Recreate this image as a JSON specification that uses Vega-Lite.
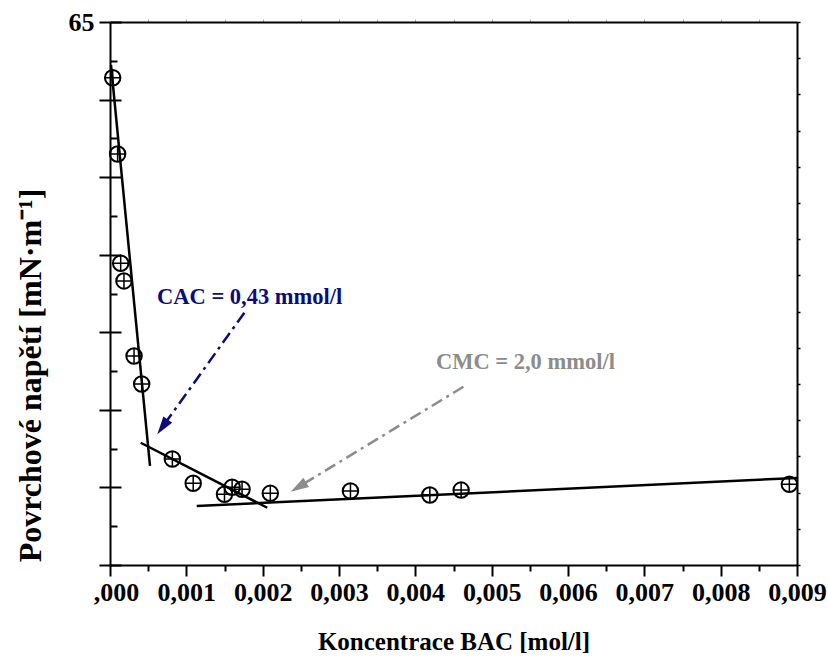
{
  "$schema": "https://vega.github.io/schema/vega-lite/v6.json",
  "width": 687,
  "height": 543,
  "autosize": "none",
  "padding": {"left": 110, "top": 22, "right": 31, "bottom": 92},
  "background": "white",
  "config": {
    "view": {"stroke": null},
    "font": "Liberation Serif",
    "axis": {
      "grid": false,
      "domainColor": "black",
      "tickColor": "black",
      "domainWidth": 2,
      "tickWidth": 2,
      "labelFont": "Liberation Serif",
      "titleFont": "Liberation Serif",
      "labelFontWeight": "bold",
      "titleFontWeight": "bold",
      "labelColor": "black",
      "titleColor": "black"
    }
  },
  "datasets": {
    "points": [
      {"c": 0.000035, "st": 61.41},
      {"c": 0.0001, "st": 56.49},
      {"c": 0.00014, "st": 49.45},
      {"c": 0.000183, "st": 48.31},
      {"c": 0.000315, "st": 43.47},
      {"c": 0.000415, "st": 41.67},
      {"c": 0.000817, "st": 36.83},
      {"c": 0.00109, "st": 35.27},
      {"c": 0.0015, "st": 34.56},
      {"c": 0.0016, "st": 35.01},
      {"c": 0.00173, "st": 34.88},
      {"c": 0.0021, "st": 34.62},
      {"c": 0.00315, "st": 34.77},
      {"c": 0.00419, "st": 34.51},
      {"c": 0.0046, "st": 34.83},
      {"c": 0.0089, "st": 35.2}
    ],
    "fits": [
      {"c": 0.0000131, "st": 62.23, "c2": 0.000524, "st2": 36.39},
      {"c": 0.000402, "st": 37.88, "c2": 0.00206, "st2": 33.69},
      {"c": 0.001136, "st": 33.8, "c2": 0.009, "st2": 35.61}
    ],
    "arrows": [
      {"name": "CAC", "c": 0.00176, "st": 46.26, "c2": 0.000688, "st2": 38.9},
      {"name": "CMC", "c": 0.00463, "st": 41.49, "c2": 0.002469, "st2": 35.03}
    ],
    "labels": [
      {"name": "CAC", "c": 0.000616, "st": 47.27, "text": "CAC = 0,43 mmol/l"},
      {"name": "CMC", "c": 0.00427, "st": 43.08, "text": "CMC = 2,0 mmol/l"}
    ]
  },
  "layer": [
    {
      "data": {"name": "points"},
      "mark": {"type": "point", "shape": "circle", "size": 240, "filled": false, "stroke": "black", "strokeWidth": 2, "opacity": 1},
      "encoding": {
        "x": {
          "field": "c", "type": "quantitative",
          "scale": {"domain": [0, 0.009], "nice": false, "zero": false},
          "axis": {
            "orient": "bottom",
            "values": [0, 0.001, 0.002, 0.003, 0.004, 0.005, 0.006, 0.007, 0.008, 0.009],
            "tickSize": 11,
            "labelExpr": "datum.value == 0 ? ',000' : replace(format(datum.value, '.3f'), '.', ',')",
            "labelOffset": {"condition": {"test": "datum.value == 0", "value": 6}, "value": 0},
            "labelFontSize": 26,
            "labelPadding": 3,
            "labelFlush": false,
            "labelOverlap": false,
            "title": "Koncentrace BAC [mol/l]",
            "titleFontSize": 25,
            "titleY": 76,
            "titleBaseline": "middle"
          }
        },
        "y": {
          "field": "st", "type": "quantitative",
          "scale": {"domain": [30, 65], "nice": false, "zero": false},
          "axis": {
            "orient": "left",
            "values": [30, 35, 40, 45, 50, 55, 60, 65],
            "tickSize": 11,
            "labelExpr": "datum.value == 65 ? '65' : ''",
            "labelFontSize": 26,
            "labelPadding": 5,
            "labelFlush": false,
            "labelOverlap": false,
            "title": "Povrchové napětí [mN·m⁻¹]",
            "titleFontSize": 32,
            "titleX": -80,
            "titleY": 353,
            "titleAngle": -90,
            "titleAlign": "center",
            "titleBaseline": "middle"
          }
        }
      }
    },
    {
      "data": {"name": "points"},
      "mark": {"type": "point", "shape": "M-1,0L1,0M0,-1L0,1", "size": 240, "filled": false, "stroke": "black", "strokeWidth": 1.5, "opacity": 1},
      "encoding": {
        "x": {
          "field": "c", "type": "quantitative",
          "scale": {"domain": [0, 0.009], "nice": false, "zero": false},
          "axis": {
            "orient": "bottom",
            "values": [0.0005, 0.0015, 0.0025, 0.0035, 0.0045, 0.0055, 0.0065, 0.0075, 0.0085],
            "tickSize": 6, "labels": false, "domain": false, "title": null
          }
        },
        "y": {
          "field": "st", "type": "quantitative",
          "scale": {"domain": [30, 65], "nice": false, "zero": false},
          "axis": {
            "orient": "left",
            "values": [30, 35, 40, 45, 50, 55, 60, 65],
            "tickSize": -11, "labels": false, "domain": false, "title": null
          }
        }
      }
    },
    {
      "data": {"name": "fits"},
      "mark": {"type": "rule", "color": "black", "strokeWidth": 2.5},
      "encoding": {
        "x": {
          "field": "c", "type": "quantitative",
          "scale": {"domain": [0, 0.009], "nice": false, "zero": false},
          "axis": {
            "orient": "top",
            "values": [0.0005, 0.001, 0.0015, 0.002, 0.0025, 0.003, 0.0035, 0.004, 0.0045, 0.005, 0.0055, 0.006, 0.0065, 0.007, 0.0075, 0.008, 0.0085],
            "tickSize": 3, "tickWidth": 1, "tickColor": "#aaaaaa", "labels": false, "domain": true, "title": null
          }
        },
        "y": {
          "field": "st", "type": "quantitative",
          "scale": {"domain": [30, 65], "nice": false, "zero": false},
          "axis": {
            "orient": "left",
            "values": [32.5, 37.5, 42.5, 47.5, 52.5, 57.5, 62.5],
            "tickSize": -7, "labels": false, "domain": false, "title": null
          }
        },
        "x2": {"field": "c2"},
        "y2": {"field": "st2"}
      }
    },
    {
      "data": {"name": "arrows"},
      "mark": {"type": "rule", "strokeWidth": 2.5, "strokeDash": [12, 5, 3, 5]},
      "encoding": {
        "x": {
          "field": "c", "type": "quantitative",
          "scale": {"domain": [0, 0.009], "nice": false, "zero": false},
          "axis": null
        },
        "y": {
          "field": "st", "type": "quantitative",
          "scale": {"domain": [30, 65], "nice": false, "zero": false},
          "axis": {
            "orient": "right",
            "values": [30, 32.3333, 34.6667, 37, 39.3333, 41.6667, 44, 46.3333, 48.6667, 51, 53.3333, 55.6667, 58, 60.3333, 62.6667, 65],
            "tickSize": 3, "tickWidth": 1.5, "labels": false, "domain": true, "title": null
          }
        },
        "x2": {"field": "c2"},
        "y2": {"field": "st2"},
        "color": {"field": "name", "type": "nominal", "scale": {"domain": ["CAC", "CMC"], "range": ["#0b0b7d", "#8c8c8c"]}, "legend": null}
      }
    },
    {
      "data": {"name": "arrows"},
      "transform": [{"filter": "datum.name == 'CAC'"}],
      "mark": {"type": "point", "shape": "M0,1L-0.6,-1L0.6,-1Z", "size": 324, "filled": true, "angle": 35.6, "opacity": 1, "strokeWidth": 0},
      "encoding": {
        "x": {"field": "c2", "type": "quantitative", "scale": {"domain": [0, 0.009], "nice": false, "zero": false}, "axis": null},
        "y": {"field": "st2", "type": "quantitative", "scale": {"domain": [30, 65], "nice": false, "zero": false}, "axis": null},
        "color": {"field": "name", "type": "nominal", "scale": {"domain": ["CAC", "CMC"], "range": ["#0b0b7d", "#8c8c8c"]}, "legend": null}
      }
    },
    {
      "data": {"name": "arrows"},
      "transform": [{"filter": "datum.name == 'CMC'"}],
      "mark": {"type": "point", "shape": "M0,1L-0.6,-1L0.6,-1Z", "size": 324, "filled": true, "angle": 58.7, "opacity": 1, "strokeWidth": 0},
      "encoding": {
        "x": {"field": "c2", "type": "quantitative", "scale": {"domain": [0, 0.009], "nice": false, "zero": false}, "axis": null},
        "y": {"field": "st2", "type": "quantitative", "scale": {"domain": [30, 65], "nice": false, "zero": false}, "axis": null},
        "color": {"field": "name", "type": "nominal", "scale": {"domain": ["CAC", "CMC"], "range": ["#0b0b7d", "#8c8c8c"]}, "legend": null}
      }
    },
    {
      "data": {"name": "labels"},
      "mark": {"type": "text", "font": "Liberation Serif", "fontWeight": "bold", "fontSize": 22.5, "align": "left", "baseline": "middle"},
      "encoding": {
        "x": {"field": "c", "type": "quantitative", "scale": {"domain": [0, 0.009], "nice": false, "zero": false}, "axis": null},
        "y": {"field": "st", "type": "quantitative", "scale": {"domain": [30, 65], "nice": false, "zero": false}, "axis": null},
        "text": {"field": "text"},
        "color": {"field": "name", "type": "nominal", "scale": {"domain": ["CAC", "CMC"], "range": ["#0b0b7d", "#8c8c8c"]}, "legend": null}
      }
    }
  ],
  "resolve": {"axis": {"x": "independent", "y": "independent"}}
}
